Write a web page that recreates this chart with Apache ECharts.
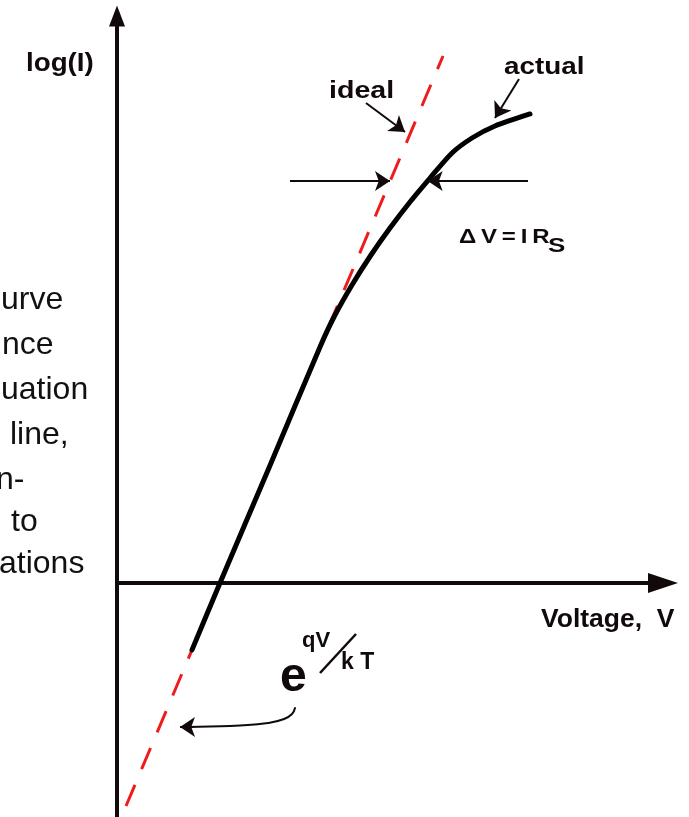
<!DOCTYPE html>
<html>
<head>
<meta charset="utf-8">
<script src="https://cdn.jsdelivr.net/npm/echarts@6/dist/echarts.min.js"></script>
<style>
  html, body { margin: 0; padding: 0; background: #ffffff; }
  #chart { width: 689px; height: 817px; }
</style>
</head>
<body>
<div id="chart"></div>
<script>
// Diode I-V on a log scale: ideal exponential vs. actual curve bent by series resistance.
// Units: voltage (arbitrary), log(I) in decades (arbitrary offset).

// Ideal diode: straight line in log(I) vs V (slope q/kT)
const idealV    = [0.165, 5.971];
const idealLogI = [-2.859, 6.756];

// Actual diode: on the ideal line at low current, rolls over at high current
const actualV    = [1.374, 1.886, 2.800, 3.718, 3.974, 4.304, 4.652, 5.000, 5.366, 5.733, 6.136, 6.502, 6.923, 7.564];
const actualLogI = [-0.857, 0.000, 1.504, 3.026, 3.410, 3.821, 4.205, 4.551, 4.885, 5.192, 5.513, 5.705, 5.859, 6.013];

// Annotation arrows (start -> tip), in the same V / log(I) units
const deltaLeftArrow  = [[3.168, 5.154], [5.000, 5.154]];
const deltaRightArrow = [[7.527, 5.154], [5.690, 5.154]];
const idealPointer    = [[4.560, 6.154], [5.275, 5.782]];
const actualPointer   = [[7.363, 6.462], [6.923, 5.962]];
// curved pointer from the exponent label toward the ideal line
const expPointerV     = [3.260, 3.205, 3.060, 2.766, 2.253, 1.703, 1.300];
const expPointerLogI  = [-1.603, -1.679, -1.744, -1.795, -1.827, -1.840, -1.845];
const expPointerTip   = [[1.400, -1.845], [1.154, -1.846]];

// Axis extents
const vMin = 0, vMax = 10;
const logIMin = -3, logIMax = 7.269;

const zip = (a, b) => a.map((v, i) => [v, b[i]]);

const INK = '#120a0a';
const RED = '#ee1c1c';
const SANS = '"Liberation Sans", Arial, Helvetica, sans-serif';
const THIN = '\u2009';

// Text placed by baseline: zrender 'middle' sits ~0.31em above the baseline
function label(text, x, baseline, size, weight, fill, stretch) {
  return {
    type: 'text',
    x: x,
    y: baseline - 0.31 * size,
    scaleX: stretch || 1,
    z: 100,
    style: {
      text: text,
      font: (weight || 'bold') + ' ' + size + 'px ' + SANS,
      fill: fill || INK,
      align: 'left',
      verticalAlign: 'middle'
    }
  };
}

const sideText = [
  ['urve', 1, 310], ['nce', 2, 355], ['uation', 1, 400], ['line,', 10, 445],
  ['n-', -4, 490], ['to', 11, 532], ['ations', -1, 574]
];

const chart = echarts.init(document.getElementById('chart'), null, { renderer: 'canvas' });

const arrowSeries = (name, coords) => ({
  type: 'lines',
  name: name,
  coordinateSystem: 'cartesian2d',
  symbol: ['none', 'arrow'],
  symbolSize: 15,
  silent: true,
  z: 5,
  lineStyle: { color: INK, width: 2, opacity: 1, curveness: 0 },
  data: [{ coords: coords }]
});

chart.setOption({
  animation: false,
  backgroundColor: '#ffffff',
  grid: { left: 117, right: 26, top: 16, bottom: 0, containLabel: false },
  xAxis: {
    type: 'value', min: vMin, max: vMax,
    axisLine: {
      show: true, onZero: true,
      symbol: ['none', 'triangle'], symbolSize: [20, 30],
      lineStyle: { color: INK, width: 4 }
    },
    axisTick: { show: false }, axisLabel: { show: false }, splitLine: { show: false }
  },
  yAxis: {
    type: 'value', min: logIMin, max: logIMax,
    axisLine: {
      show: true, onZero: false,
      symbol: ['none', 'triangle'], symbolSize: [16, 21],
      lineStyle: { color: INK, width: 4 }
    },
    axisTick: { show: false }, axisLabel: { show: false }, splitLine: { show: false }
  },
  series: [
    {
      type: 'line', name: 'ideal',
      data: zip(idealV, idealLogI),
      showSymbol: false, symbol: 'none', z: 2, silent: true,
      lineStyle: { color: RED, width: 3, type: [23, 17] }
    },
    {
      type: 'line', name: 'actual',
      data: zip(actualV, actualLogI),
      smooth: 0.25, showSymbol: false, symbol: 'none', z: 3, silent: true,
      lineStyle: { color: '#000000', width: 5, cap: 'round', join: 'round' }
    },
    {
      type: 'line', name: 'exp-pointer',
      data: zip(expPointerV, expPointerLogI),
      smooth: 0.5, showSymbol: false, symbol: 'none', z: 5, silent: true,
      lineStyle: { color: INK, width: 2, cap: 'round' }
    },
    arrowSeries('exp-pointer-tip', expPointerTip),
    arrowSeries('dv-left', deltaLeftArrow),
    arrowSeries('dv-right', deltaRightArrow),
    arrowSeries('ideal-pointer', idealPointer),
    arrowSeries('actual-pointer', actualPointer)
  ],
  graphic: [
    label('log(I)', 26, 72, 25, 'bold', INK, 1.11),
    label('ideal', 329, 99, 24, 'bold', INK, 1.19),
    label('actual', 504, 75, 24, 'bold', INK, 1.16),
    label('Voltage,  V', 541, 628, 25, 'bold', INK, 1.06),
    label(['\u0394', 'V', '=', 'I', 'R'].join(THIN), 459, 244, 20, 'bold', INK, 1.2),
    label('S', 548, 253, 20, 'bold', INK, 1.3),
    label('e', 280, 693, 48),
    label('qV', 302, 648, 22),
    label('k T', 341, 670, 23),
    {
      type: 'line', z: 100,
      shape: { x1: 320, y1: 673, x2: 356, y2: 634 },
      style: { stroke: INK, lineWidth: 2.5 }
    }
  ].concat(sideText.map(t => label(t[0], t[1], t[2], 32, 'normal', '#111111')))
});
</script>
</body>
</html>
